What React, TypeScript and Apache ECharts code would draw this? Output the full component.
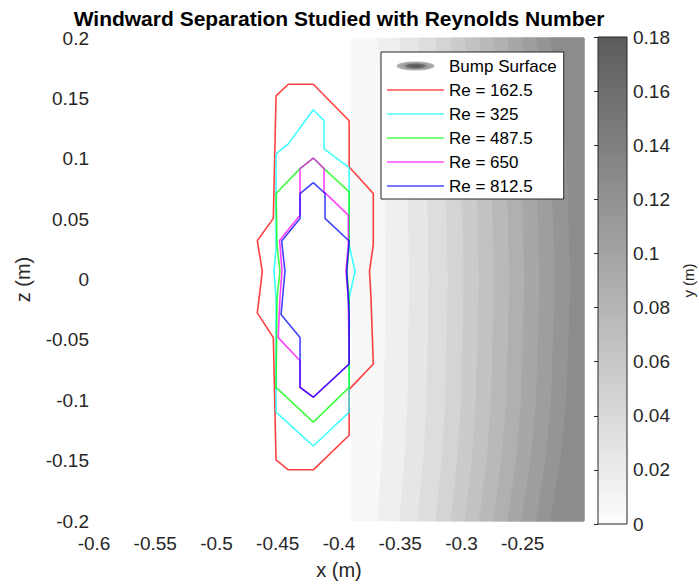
import React, { useEffect, useRef } from 'react';
import * as echarts from 'echarts';

const FONT = '"Liberation Sans", Arial, Helvetica, sans-serif';
const AXIS_COLOR = '#262626';

// ---------- data ----------
const seriesNames = ['Re = 162.5', 'Re = 325', 'Re = 487.5', 'Re = 650', 'Re = 812.5'];
const seriesColors = ['#ff0000', '#00ffff', '#00ff00', '#ff00ff', '#0000ff'];

const re162: number[][] = [
  [-0.4514, 0.1521], [-0.4414, 0.1617], [-0.4210, 0.1617], [-0.3917, 0.1315],
  [-0.3917, 0.0932], [-0.3720, 0.0712], [-0.3720, 0.0288], [-0.3751, 0.0068],
  [-0.3739, -0.0152], [-0.3720, -0.0700], [-0.3917, -0.0910], [-0.3917, -0.1290],
  [-0.4210, -0.1576], [-0.4414, -0.1576], [-0.4514, -0.1494], [-0.4536, -0.0481],
  [-0.4667, -0.0276], [-0.4626, 0.0068], [-0.4667, 0.0321], [-0.4536, 0.0506],
  [-0.4514, 0.1521],
];
const re325: number[][] = [
  [-0.4514, 0.1041], [-0.4414, 0.1123], [-0.4210, 0.1406], [-0.4122, 0.1315],
  [-0.4122, 0.1082], [-0.3917, 0.0926], [-0.3917, 0.0288], [-0.3869, 0.0068],
  [-0.3917, -0.0152], [-0.3917, -0.1099], [-0.4210, -0.1379], [-0.4514, -0.1099],
  [-0.4514, -0.0152], [-0.4531, 0.0068], [-0.4514, 0.0259], [-0.4514, 0.1041],
];
const re487: number[][] = [
  [-0.4514, 0.0712], [-0.4318, 0.0918], [-0.4210, 0.1006], [-0.4122, 0.0918],
  [-0.3917, 0.0726], [-0.3917, 0.0288], [-0.3935, 0.0068], [-0.3917, -0.0152],
  [-0.3917, -0.0893], [-0.4210, -0.1181], [-0.4514, -0.0893], [-0.4506, -0.0152],
  [-0.4482, 0.0068], [-0.4506, 0.0288], [-0.4514, 0.0712],
];
const re650: number[][] = [
  [-0.4318, 0.0918], [-0.4210, 0.1006], [-0.4122, 0.0918], [-0.4122, 0.0726],
  [-0.3924, 0.0533], [-0.3924, 0.0288], [-0.3943, 0.0068], [-0.3924, -0.0152],
  [-0.3917, -0.0700], [-0.4210, -0.0975], [-0.4318, -0.0893], [-0.4318, -0.0673],
  [-0.4496, -0.0481], [-0.4482, -0.0152], [-0.4465, 0.0068], [-0.4482, 0.0288],
  [-0.4487, 0.0321], [-0.4318, 0.0533], [-0.4318, 0.0918],
];
const re812: number[][] = [
  [-0.4210, 0.0802], [-0.4114, 0.0712], [-0.4114, 0.0506], [-0.3917, 0.0319],
  [-0.3937, 0.0068], [-0.3917, -0.0290], [-0.3917, -0.0700], [-0.4210, -0.0975],
  [-0.4318, -0.0893], [-0.4318, -0.0481], [-0.4473, -0.0290], [-0.4441, 0.0068],
  [-0.4468, 0.0319], [-0.4318, 0.0506], [-0.4318, 0.0712], [-0.4210, 0.0802],
];
const reData = [re162, re325, re487, re650, re812];

// bump surface: filled contour bands (height levels, m)
const contourLevels = [0, 0.01, 0.02, 0.03, 0.04, 0.05, 0.06, 0.07, 0.08, 0.09, 0.1, 0.11, 0.12, 0.13];
const surfaceLeftX = -0.39;
const surfaceRightX = -0.2;
// contour boundary x positions read at |z| = 0, 0.1, 0.15, 0.2
const boundaryXMid = [-0.3618, -0.3424, -0.3266, -0.3111, -0.2981, -0.2857, -0.2732, -0.2607, -0.2484, -0.2361, -0.2234, -0.2109];
const boundaryX10 = [-0.3630, -0.3440, -0.3282, -0.3131, -0.3001, -0.2882, -0.2757, -0.2632, -0.2513, -0.2390, -0.2267, -0.2142];
const boundaryX15 = [-0.3651, -0.3465, -0.3311, -0.3160, -0.3034, -0.2914, -0.2793, -0.2673, -0.2554, -0.2435, -0.2312, -0.2191];
const boundaryX20 = [-0.3684, -0.3506, -0.3356, -0.3209, -0.3088, -0.2972, -0.2855, -0.2738, -0.2623, -0.2509, -0.2390, -0.2273];

// colorbar
const colorbarMin = 0;
const colorbarMax = 0.18;
const colorbarTop = '#5c5c5c';
const colorbarBottom = '#fdfdfd';

const grayOf = (v: number) => {
  const g = Math.round(253 - (253 - 90) * v / colorbarMax);
  return `rgb(${g},${g},${g})`;
};

const bumpIconSvg =
  '<svg xmlns="http://www.w3.org/2000/svg" width="57" height="12" viewBox="0 0 57 12">' +
  '<defs><radialGradient id="g" cx="0.5" cy="0.5" r="0.5">' +
  '<stop offset="0" stop-color="#555"/><stop offset="0.45" stop-color="#6a6a6a"/>' +
  '<stop offset="0.6" stop-color="#999"/><stop offset="1" stop-color="#b5b5b5"/></radialGradient></defs>' +
  '<ellipse cx="28.5" cy="6" rx="19" ry="4.6" fill="url(#g)"/></svg>';
const bumpIcon = 'image://data:image/svg+xml;charset=utf-8,' + encodeURIComponent(bumpIconSvg);
const lineIcon = 'path://M0,0H57V1.7H0Z';

export default function App() {
  const ref = useRef<HTMLDivElement>(null);

  useEffect(() => {
    if (!ref.current) return;
    const chart = echarts.init(ref.current, undefined, { renderer: 'svg' });

    const bandData = contourLevels.slice(0, -1).map((lv, k) => [-0.3, 0, k]);

    const surfaceSeries: any = {
      type: 'custom',
      name: 'Bump Surface',
      xAxisIndex: 0,
      yAxisIndex: 0,
      z: 1,
      silent: true,
      itemStyle: { color: '#888' },
      data: bandData,
      renderItem: (params: any, api: any) => {
        const k = params.dataIndex;
        let left: number[][];
        if (k === 0) {
          left = [[surfaceLeftX, -0.2], [surfaceLeftX, 0.2]];
        } else {
          const b = k - 1;
          left = [
            [boundaryX20[b], -0.2], [boundaryX15[b], -0.15], [boundaryX10[b], -0.1],
            [boundaryXMid[b], 0], [boundaryX10[b], 0.1], [boundaryX15[b], 0.15], [boundaryX20[b], 0.2],
          ];
        }
        const pts = left.concat([[surfaceRightX, 0.2], [surfaceRightX, -0.2]]).map((p) => api.coord(p));
        const mid = (contourLevels[k] + contourLevels[k + 1]) / 2;
        const col = grayOf(mid);
        return {
          type: 'polygon',
          shape: { points: pts },
          style: { fill: col, stroke: col, lineWidth: 0.5 },
        };
      },
    };

    const colorbarSeries: any = {
      type: 'custom',
      name: 'colorbar',
      xAxisIndex: 1,
      yAxisIndex: 1,
      silent: true,
      data: [[0, colorbarMin]],
      renderItem: (params: any, api: any) => {
        const p0 = api.coord([0, colorbarMax]);
        const p1 = api.coord([1, colorbarMin]);
        return {
          type: 'rect',
          shape: { x: p0[0], y: p0[1], width: p1[0] - p0[0], height: p1[1] - p0[1] },
          style: {
            fill: new echarts.graphic.LinearGradient(0, 0, 0, 1, [
              { offset: 0, color: colorbarTop },
              { offset: 1, color: colorbarBottom },
            ]),
            stroke: AXIS_COLOR,
            lineWidth: 1,
          },
        };
      },
    };

    const lineSeries = reData.map((d, i) => ({
      type: 'line',
      name: seriesNames[i],
      xAxisIndex: 0,
      yAxisIndex: 0,
      data: d,
      symbol: 'none',
      showSymbol: false,
      z: 3 + i,
      lineStyle: { color: seriesColors[i], width: 1.6, opacity: 0.75 },
      itemStyle: { color: seriesColors[i], opacity: 0.7 },
    }));

    const fmt = (v: number) => (Math.round(v * 1000) / 1000).toString();

    const option: any = {
      animation: false,
      backgroundColor: '#ffffff',
      textStyle: { fontFamily: FONT },
      graphic: [
        {
          type: 'text',
          x: 339,
          y: 18,
          style: {
            text: 'Windward Separation Studied with Reynolds Number',
            fontFamily: FONT,
            fontSize: 21,
            fontWeight: 'bold',
            fill: '#000',
            align: 'center',
            verticalAlign: 'middle',
          },
        },
      ],
      grid: [
        { left: 94, right: 115, top: 38, bottom: 61 },
        { left: 598, width: 29, top: 37, bottom: 61 },
      ],
      xAxis: [
        {
          gridIndex: 0,
          type: 'value',
          min: -0.6,
          max: -0.2,
          interval: 0.05,
          axisLine: { show: false },
          axisTick: { show: false },
          splitLine: { show: false },
          axisLabel: {
            showMaxLabel: false,
            fontSize: 19,
            color: AXIS_COLOR,
            margin: 13,
            fontFamily: FONT,
            formatter: fmt,
          },
          name: 'x (m)',
          nameLocation: 'middle',
          nameGap: 39,
          nameTextStyle: { fontSize: 20, color: AXIS_COLOR, fontFamily: FONT },
        },
        {
          gridIndex: 1,
          type: 'value',
          min: 0,
          max: 1,
          show: false,
        },
      ],
      yAxis: [
        {
          gridIndex: 0,
          type: 'value',
          min: -0.2,
          max: 0.2,
          interval: 0.05,
          axisLine: { show: false },
          axisTick: { show: false },
          splitLine: { show: false },
          axisLabel: {
            fontSize: 19,
            color: AXIS_COLOR,
            margin: 5,
            fontFamily: FONT,
            formatter: fmt,
          },
          name: 'z (m)',
          nameLocation: 'middle',
          nameRotate: 90,
          nameGap: 61,
          nameTextStyle: { fontSize: 20, color: AXIS_COLOR, fontFamily: FONT },
        },
        {
          gridIndex: 1,
          type: 'value',
          position: 'right',
          min: colorbarMin,
          max: colorbarMax,
          interval: 0.02,
          axisLine: { show: false },
          axisTick: { show: true, inside: true, length: 4, lineStyle: { color: AXIS_COLOR, width: 1 } },
          splitLine: { show: false },
          axisLabel: {
            fontSize: 19,
            color: AXIS_COLOR,
            margin: 6,
            fontFamily: FONT,
            formatter: fmt,
          },
          name: 'y (m)',
          nameLocation: 'middle',
          nameRotate: 90,
          nameGap: 54,
          nameTextStyle: { fontSize: 15, color: AXIS_COLOR, fontFamily: FONT },
        },
      ],
      legend: {
        orient: 'vertical',
        left: 381,
        top: 52,
        itemWidth: 57,
        itemHeight: 12,
        itemGap: 6,
        padding: [5, 7, 4, 6],
        borderColor: AXIS_COLOR,
        borderWidth: 1,
        backgroundColor: '#ffffff',
        selectedMode: false,
        textStyle: { fontSize: 17, color: '#000', fontFamily: FONT, lineHeight: 18 },
        data: [
          { name: 'Bump Surface', icon: bumpIcon },
          ...seriesNames.map((n) => ({ name: n, icon: lineIcon })),
        ],
      },
      series: [surfaceSeries, colorbarSeries, ...lineSeries],
    };

    chart.setOption(option);
    return () => chart.dispose();
  }, []);

  return (
    <div
      ref={ref}
      style={{ position: 'fixed', left: 0, top: 0, width: 699, height: 585, background: '#fff' }}
    />
  );
}
